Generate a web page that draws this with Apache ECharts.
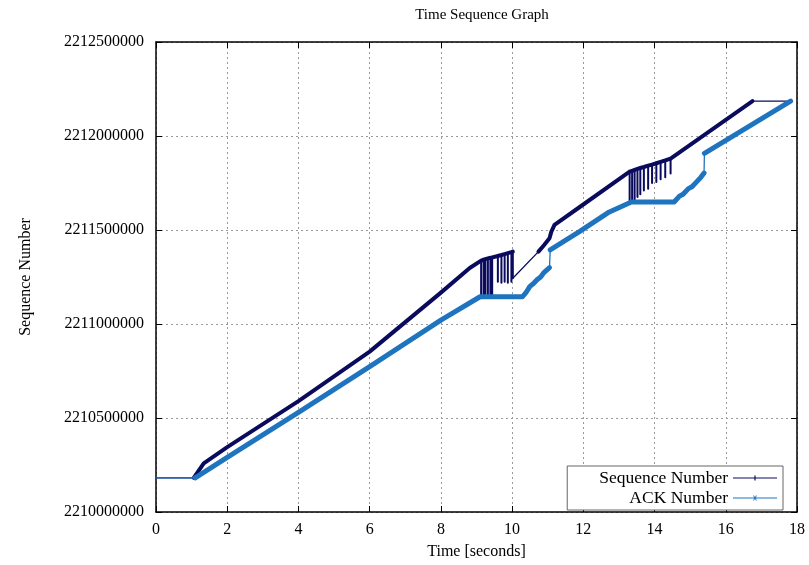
<!DOCTYPE html>
<html>
<head>
<meta charset="utf-8">
<script src="https://cdn.jsdelivr.net/npm/echarts@6/dist/echarts.min.js"></script>
<style>
  html, body { margin: 0; padding: 0; background: #fff; }
  #chart { width: 809px; height: 565px; }
</style>
</head>
<body>
<div id="chart"></div>
<script>
// ---- data (time in seconds, sequence numbers) ----
const xTicks = [0, 2, 4, 6, 8, 10, 12, 14, 16, 18]
const yTicks = [2210000000, 2210500000, 2211000000, 2211500000, 2212000000, 2212500000]

// sequence number
const seqLeadTime = [0, 1.06]
const seqLeadValue = [2210182000, 2210182000]
const seqRampTime = [1.06, 1.34, 2, 4, 6, 8, 8.81]
const seqRampValue = [2210182000, 2210259000, 2210345000, 2210590000, 2210853000, 2211167000, 2211298000]
const burst1Time = [9.13, 9.2, 9.25, 9.32, 9.39, 9.44, 9.6, 9.7, 9.79, 9.88, 9.98, 10.02]
const burst1Top = [2211337000, 2211342000, 2211345000, 2211349000, 2211352000, 2211355000, 2211362000, 2211367000, 2211372000, 2211377000, 2211382000, 2211385000]
const burst1Bottom = [2211152000, 2211152000, 2211152000, 2211152000, 2211152000, 2211152000, 2211225000, 2211220000, 2211225000, 2211220000, 2211225000, 2211243000]
const seqGapTime = [10.02, 10.74]
const seqGapValue = [2211243000, 2211385000]
const seqMidTime = [10.74, 10.9, 11.05, 11.1, 11.19, 11.89, 13.3]
const seqMidValue = [2211385000, 2211420000, 2211456000, 2211490000, 2211527000, 2211621000, 2211810000]
const burst2Time = [13.3, 13.37, 13.44, 13.52, 13.6, 13.7, 13.82, 13.93, 14.05, 14.17, 14.3, 14.45]
const burst2Top = [2211810000, 2211815000, 2211820000, 2211825000, 2211830000, 2211835000, 2211842000, 2211848000, 2211855000, 2211862000, 2211870000, 2211880000]
const burst2Bottom = [2211655000, 2211655000, 2211655000, 2211675000, 2211690000, 2211710000, 2211720000, 2211750000, 2211755000, 2211770000, 2211780000, 2211800000]
const seqTailTime = [14.45, 16.75]
const seqTailValue = [2211880000, 2212186000]
const seqEndTime = [16.75, 17.82]
const seqEndValue = [2212186000, 2212186000]

// ack number
const ackLeadTime = [0, 1.1]
const ackLeadValue = [2210182000, 2210182000]
const ackRamp1Time = [1.1, 2, 4, 6, 8, 9.1, 10.29, 10.4, 10.5, 10.6, 10.7, 10.8, 10.9, 11.05]
const ackRamp1Value = [2210182000, 2210290000, 2210530000, 2210773000, 2211021000, 2211145000, 2211145000, 2211170000, 2211200000, 2211215000, 2211235000, 2211250000, 2211275000, 2211300000]
const ackJump1Time = [11.05, 11.07]
const ackJump1Value = [2211300000, 2211394000]
const ackRamp2Time = [11.07, 11.89, 12.73, 13.35, 14.55, 14.7, 14.8, 14.95, 15.05, 15.2, 15.3, 15.39]
const ackRamp2Value = [2211394000, 2211491000, 2211596000, 2211649000, 2211649000, 2211680000, 2211690000, 2211720000, 2211730000, 2211760000, 2211780000, 2211803000]
const ackJump2Time = [15.39, 15.4]
const ackJump2Value = [2211803000, 2211908000]
const ackRamp3Time = [15.4, 17.82]
const ackRamp3Value = [2211908000, 2212186000]

const SEQ = 'Sequence Number'
const ACK = 'ACK Number'
const seqColor = '#0b0b5e'
const ackColor = '#1f74bf'
const font = 'Liberation Serif'

const pairs = (xs, ys) => xs.map((x, i) => [x, ys[i]])
// teeth: go down to the bottom and back up at each time
const teeth = (xs, tops, bottoms) => {
  const pts = []
  xs.forEach((x, i) => {
    pts.push([x, tops[i]], [x, bottoms[i]], [x, tops[i]])
  })
  return pts
}

const line = (name, color, width, data) => ({
  name,
  type: 'line',
  data,
  showSymbol: false,
  symbol: 'none',
  animation: false,
  silent: true,
  color,
  lineStyle: { color, width, cap: 'round', join: 'round' }
})

const myChart = echarts.init(document.getElementById('chart'))

const axisLine = { show: true, onZero: false, lineStyle: { color: '#000', width: 1.5 } }
const tick = { show: true, inside: true, length: 6, lineStyle: { color: '#000' } }
const grid = { show: true, lineStyle: { color: '#9a9a9a', type: [2, 3], width: 1 } }

const options = {
  animation: false,
  title: {
    text: 'Time Sequence Graph',
    left: 477,
    top: 3,
    textAlign: 'center',
    textStyle: { fontFamily: font, fontSize: 15, fontWeight: 'normal', color: '#000' }
  },
  grid: { left: 156, right: 12, top: 42, bottom: 53 },
  legend: {
    orient: 'vertical',
    right: 26,
    bottom: 55,
    align: 'right',
    backgroundColor: '#fff',
    borderColor: '#666',
    borderWidth: 1,
    padding: [3, 6, 3, 32],
    itemGap: 2,
    itemWidth: 44,
    itemHeight: 10,
    textStyle: { fontFamily: font, fontSize: 17.5, color: '#000' },
    data: [
      { name: SEQ, icon: 'path://M0,4.4L44,4.4L44,5.6L0,5.6Z M21.4,2.5L22.6,2.5L22.6,7.5L21.4,7.5Z', itemStyle: { color: seqColor } },
      { name: ACK, icon: 'path://M0,4.4L44,4.4L44,5.6L0,5.6Z M20,2.5L21,2.5L24,7.5L23,7.5Z M23,2.5L24,2.5L21,7.5L20,7.5Z', itemStyle: { color: ackColor } }
    ]
  },
  xAxis: [
    {
      type: 'value',
      position: 'bottom',
      min: xTicks[0],
      max: xTicks[xTicks.length - 1],
      interval: 2,
      axisLine,
      axisTick: tick,
      axisLabel: { fontFamily: font, fontSize: 16, color: '#000', margin: 10 },
      splitLine: grid,
      name: 'Time [seconds]',
      nameLocation: 'middle',
      nameGap: 32,
      nameTextStyle: { fontFamily: font, fontSize: 16, color: '#000' }
    },
    {
      type: 'value',
      position: 'top',
      min: xTicks[0],
      max: xTicks[xTicks.length - 1],
      interval: 2,
      axisLine,
      axisTick: tick,
      axisLabel: { show: false },
      splitLine: { show: false }
    }
  ],
  yAxis: [
    {
      type: 'value',
      position: 'left',
      min: yTicks[0],
      max: yTicks[yTicks.length - 1],
      interval: 500000,
      axisLine,
      axisTick: tick,
      axisLabel: { fontFamily: font, fontSize: 16, color: '#000', margin: 12, formatter: (v) => String(v) },
      splitLine: grid,
      name: 'Sequence Number',
      nameLocation: 'middle',
      nameGap: 122,
      nameTextStyle: { fontFamily: font, fontSize: 16, color: '#000' }
    },
    {
      type: 'value',
      position: 'right',
      min: yTicks[0],
      max: yTicks[yTicks.length - 1],
      interval: 500000,
      axisLine,
      axisTick: tick,
      axisLabel: { show: false },
      splitLine: { show: false }
    }
  ],
  series: [
    line(SEQ, seqColor, 1.2, pairs(seqLeadTime, seqLeadValue)),
    line(SEQ, seqColor, 4, pairs(seqRampTime, seqRampValue).concat(pairs(burst1Time, burst1Top))),
    line(SEQ, seqColor, 2, teeth(burst1Time, burst1Top, burst1Bottom)),
    line(SEQ, seqColor, 1.3, pairs(seqGapTime, seqGapValue)),
    line(SEQ, seqColor, 4, pairs(seqMidTime, seqMidValue).concat(pairs(burst2Time, burst2Top), pairs(seqTailTime, seqTailValue))),
    line(SEQ, seqColor, 2, teeth(burst2Time, burst2Top, burst2Bottom)),
    line(SEQ, seqColor, 1.2, pairs(seqEndTime, seqEndValue)),
    line(ACK, ackColor, 1.3, pairs(ackLeadTime, ackLeadValue)),
    line(ACK, ackColor, 5, pairs(ackRamp1Time, ackRamp1Value)),
    line(ACK, ackColor, 1.3, pairs(ackJump1Time, ackJump1Value)),
    line(ACK, ackColor, 5, pairs(ackRamp2Time, ackRamp2Value)),
    line(ACK, ackColor, 1.3, pairs(ackJump2Time, ackJump2Value)),
    line(ACK, ackColor, 5, pairs(ackRamp3Time, ackRamp3Value))
  ]
}
myChart.setOption(options)
</script>
</body>
</html>
